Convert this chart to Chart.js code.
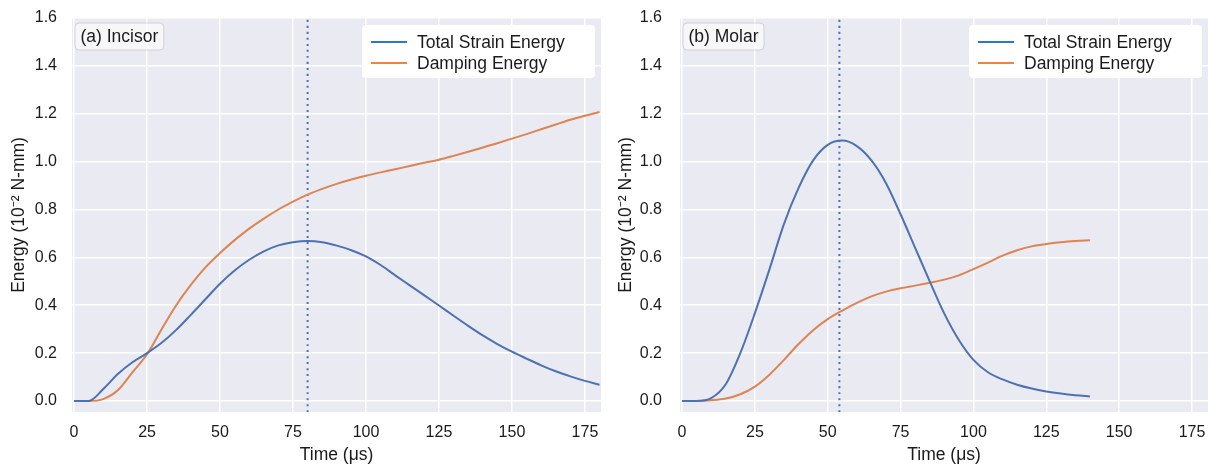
<!DOCTYPE html>
<html>
<head>
<meta charset="utf-8">
<script src="https://cdn.jsdelivr.net/npm/chart.js@4.4.0/dist/chart.umd.min.js"></script>
<style>
  body { margin: 0; background: #ffffff; }
  .panel { position: absolute; top: 0; width: 605px; height: 468px; }
</style>
</head>
<body>
<div class="panel" style="left:0"><canvas id="incisor" width="605" height="468"></canvas></div>
<div class="panel" style="left:605px"><canvas id="molar" width="605" height="468"></canvas></div>
<script>
// ---- data (energy in 10^-2 N-mm, time in us) ----
var timeIncisor = [0, 5, 10, 15, 20, 25, 30, 35, 40, 45, 50, 55, 60, 65, 70, 75, 80, 85, 90, 95, 100,
  105, 110, 115, 120, 125, 130, 135, 140, 145, 150, 155, 160, 165, 170, 175, 180]
var strainIncisor = [0, 0, 0.05, 0.113, 0.162, 0.2, 0.243, 0.297, 0.36, 0.425, 0.49, 0.545, 0.59, 0.625, 0.65, 0.663, 0.668, 0.663, 0.649, 0.63, 0.604,
  0.568, 0.525, 0.483, 0.441, 0.399, 0.356, 0.314, 0.274, 0.238, 0.206, 0.177, 0.149, 0.124, 0.103, 0.084, 0.068]
var dampingIncisor = [0, 0, 0.008, 0.045, 0.12, 0.195, 0.3, 0.4, 0.485, 0.558, 0.618, 0.672, 0.72, 0.762, 0.8, 0.833, 0.862, 0.886, 0.907, 0.925, 0.941,
  0.955, 0.968, 0.982, 0.995, 1.008, 1.024, 1.041, 1.059, 1.077, 1.096, 1.115, 1.135, 1.155, 1.175, 1.192, 1.207]
var peakIncisor = [80]

var timeMolar = [0, 5, 10, 15, 20, 25, 30, 35, 40, 45, 50, 55, 60, 65, 70, 75, 80, 85, 90, 95, 100,
  105, 110, 115, 120, 125, 130, 135, 140]
var strainMolar = [0, 0, 0.012, 0.07, 0.2, 0.367, 0.55, 0.74, 0.89, 1.005, 1.07, 1.088, 1.065, 1.005, 0.91, 0.78, 0.64, 0.5, 0.365, 0.255, 0.172,
  0.12, 0.09, 0.068, 0.052, 0.04, 0.031, 0.024, 0.019]
var dampingMolar = [0, 0, 0.003, 0.01, 0.028, 0.06, 0.11, 0.172, 0.238, 0.296, 0.342, 0.378, 0.41, 0.437, 0.457, 0.471, 0.482, 0.494, 0.507, 0.525, 0.551,
  0.578, 0.607, 0.63, 0.646, 0.656, 0.663, 0.668, 0.671]
var peakMolar = [54]

var seriesNames = ['Total Strain Energy', 'Damping Energy']
var xTicks = [0, 25, 50, 75, 100, 125, 150, 175]
var yTicks = [0, 0.2, 0.4, 0.6, 0.8, 1.0, 1.2, 1.4, 1.6]

var FONT = "'Liberation Sans', Arial, sans-serif"
var TEXT = '#1a1a1a'
var yMin = -0.046, yMax = 1.6

function pts(xs, ys) {
  return xs.map(function (x, i) { return { x: x, y: ys[i] } })
}

// seaborn-ish background, legend box and panel tag
var decor = {
  id: 'decor',
  beforeDraw: function (chart) {
    var a = chart.chartArea, ctx = chart.ctx
    ctx.save()
    ctx.fillStyle = '#eaeaf2'
    ctx.fillRect(a.left, a.top, a.right - a.left, a.bottom - a.top)
    ctx.restore()
  },
  afterDraw: function (chart) {
    var a = chart.chartArea, ctx = chart.ctx
    var o = chart.options.plugins.decor
    ctx.save()
    // panel tag
    ctx.font = '17.5px ' + FONT
    var tw = ctx.measureText(o.tag).width
    var bx = a.left + 3, by = a.top + 5
    ctx.beginPath()
    ctx.roundRect(bx, by, tw + 11, 27, 4)
    ctx.fillStyle = 'rgba(255,255,255,0.6)'
    ctx.fill()
    ctx.strokeStyle = '#d2d2d6'
    ctx.lineWidth = 1
    ctx.stroke()
    ctx.fillStyle = TEXT
    ctx.textBaseline = 'middle'
    ctx.fillText(o.tag, bx + 5.5, by + 14)

    // legend
    var lw = 233, lh = 53
    var lx = a.right - 6 - lw, ly = a.top + 7
    ctx.beginPath()
    ctx.roundRect(lx, ly, lw, lh, 4)
    ctx.fillStyle = '#ffffff'
    ctx.fill()
    var legendColors = ['#2a79c9', '#f08537']
    for (var i = 0; i < 2; i++) {
      var yy = ly + 17 + i * 21
      ctx.beginPath()
      ctx.moveTo(lx + 9, yy)
      ctx.lineTo(lx + 45, yy)
      ctx.strokeStyle = legendColors[i]
      ctx.lineWidth = 2
      ctx.stroke()
      ctx.fillStyle = TEXT
      ctx.fillText(chart.data.datasets[i].label, lx + 55, yy + 1)
    }
    ctx.restore()
  }
}

function makeChart(id, tag, times, strain, damping, peak, yAxisWidth, titlePad, rightPad) {
  var ctx = document.getElementById(id).getContext('2d')
  return new Chart(ctx, {
    type: 'line',
    data: {
      datasets: [
        { label: seriesNames[0], data: pts(times, strain), borderColor: '#4c72b0' },
        { label: seriesNames[1], data: pts(times, damping), borderColor: '#dd8452' },
        { label: 'peak', data: [{ x: peak[0], y: yMin }, { x: peak[0], y: yMax }],
          borderColor: '#4c72b0', borderDash: [2, 4], borderWidth: 2 }
      ]
    },
    options: {
      responsive: false,
      animation: false,
      layout: { padding: { left: 0, right: rightPad, top: 18, bottom: 0 } },
      elements: {
        point: { radius: 0 },
        line: { borderWidth: 2, cubicInterpolationMode: 'monotone', fill: false }
      },
      plugins: {
        legend: { display: false },
        tooltip: { enabled: false },
        decor: { tag: tag }
      },
      scales: {
        x: {
          type: 'linear',
          min: -0.7,
          max: 180.5,
          afterBuildTicks: function (s) { s.ticks = xTicks.map(function (v) { return { value: v } }) },
          afterFit: function (s) { s.height = 56; s.paddingLeft = 0; s.paddingRight = 0 },
          grid: { color: '#ffffff', lineWidth: 1.5, drawTicks: false },
          border: { display: false },
          ticks: { padding: 11, color: TEXT, font: { family: FONT, size: 16 }, maxRotation: 0,
            callback: function (v) { return v } },
          title: { display: true, text: 'Time (μs)', color: TEXT, font: { family: FONT, size: 17.5 },
            padding: { top: 0, bottom: 2.5 } }
        },
        y: {
          min: yMin,
          max: yMax,
          afterBuildTicks: function (s) { s.ticks = yTicks.map(function (v) { return { value: v } }) },
          afterFit: function (s) { s.width = yAxisWidth; s.paddingTop = 0; s.paddingBottom = 0 },
          grid: { color: '#ffffff', lineWidth: 1.5, drawTicks: false },
          border: { display: false },
          ticks: { padding: yAxisWidth - 57, color: TEXT, font: { family: FONT, size: 16 },
            callback: function (v) { return v.toFixed(1) } },
          title: { display: true, text: 'Energy (10⁻² N-mm)', color: TEXT, font: { family: FONT, size: 17.5 },
            padding: { top: titlePad, bottom: 0 } }
        }
      }
    },
    plugins: [decor]
  })
}

makeChart('incisor', '(a) Incisor', timeIncisor, strainIncisor, dampingIncisor, peakIncisor, 72, 8.5, 4)
makeChart('molar', '(b) Molar', timeMolar, strainMolar, dampingMolar, peakMolar, 75, 10.5, 2)
</script>
</body>
</html>
